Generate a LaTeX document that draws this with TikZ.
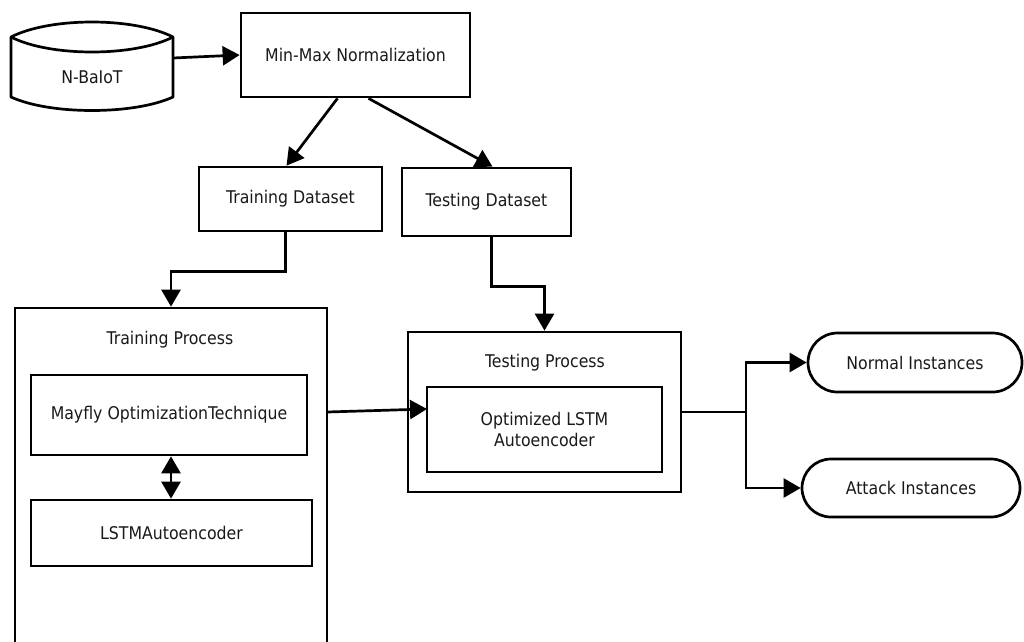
\documentclass[tikz,border=0pt]{standalone}
\usepackage{fontspec}
\setmainfont{DejaVu Sans Condensed}
\usetikzlibrary{arrows.meta,shapes.misc}
\begin{document}
\begin{tikzpicture}[x=1pt,y=-1pt,
  font=\fontsize{17.5}{21}\selectfont,
  every node/.style={text=black!90},
  ln/.style={line width=2.7pt,draw=black},
  box/.style={ln,rectangle,inner sep=0pt,align=center},
  term/.style={ln,rounded rectangle,inner sep=0pt,align=center},
  arr/.style={ln,-{Triangle[length=17pt,width=19pt]}},
  darr/.style={ln,{Triangle[length=17pt,width=19pt]}-{Triangle[length=17pt,width=19pt]}}]
\useasboundingbox (0,0) rectangle (1024,641);
% N-BaIoT data store
\draw[ln,line join=round] (11,37) .. controls (50,17) and (134,17) .. (173,37)
  -- (173,97) .. controls (134,115) and (50,115) .. (11,97) -- cycle;
\draw[ln] (11,37) .. controls (50,57) and (134,57) .. (173,37);
\node (nb) at (92,77) {N-BaIoT};
\coordinate (nbE) at (173,58);
% boxes
\node[box,minimum width=229pt,minimum height=84pt] (mm) at (355.5,55) {Min-Max Normalization};
\node[box,minimum width=183pt,minimum height=64pt] (train) at (290.5,199) {Training Dataset};
\node[box,minimum width=169pt,minimum height=68pt] (test) at (486.5,202) {Testing Dataset};
\node[box,minimum width=312pt,minimum height=352pt] (trainproc) at (171,484) {};
\node (trainlbl) at (170,340) {Training Process};
\node[box,minimum width=276pt,minimum height=80pt] (mayfly) at (169,415) {Mayfly OptimizationTechnique};
\node[box,minimum width=281pt,minimum height=66pt] (lstm) at (171.5,533) {LSTMAutoencoder};
\node[box,minimum width=273pt,minimum height=160pt] (testproc) at (544.5,412) {};
\node (testlbl) at (545,363) {Testing Process};
\node[box,minimum width=235pt,minimum height=85pt] (opt) at (544.5,429.5) {Optimized LSTM\\Autoencoder};
\node[term,minimum width=214pt,minimum height=59pt] (normal) at (915,362.5) {Normal Instances};
\node[term,minimum width=218pt,minimum height=58pt] (attack) at (911,488) {Attack Instances};
% connectors
\draw[arr] (nbE) -- (mm.west);
\draw[arr] ([xshift=-18pt]mm.south) -- ([xshift=-4pt]train.north);
\draw[arr] ([xshift=13pt]mm.south) -- ([xshift=6pt]test.north);
\draw[arr] ([xshift=-5pt]train.south) -- ++(0,39) -| (trainproc.north);
\draw[arr] ([xshift=5pt]test.south) -- ++(0,49) -| (testproc.north);
\coordinate (tpA) at (327,412);
\coordinate (tpB) at (427,409);
\draw[arr] (tpA) -- (tpB);
\draw[darr] (lstm.north -| 171,0) -- (mayfly.south -| 171,0);
\coordinate (j) at (746,412);
\draw[ln] (testproc.east) -- (j);
\draw[arr] (j) |- (normal.west);
\draw[arr] (j) |- (attack.west);
\end{tikzpicture}
\end{document}
